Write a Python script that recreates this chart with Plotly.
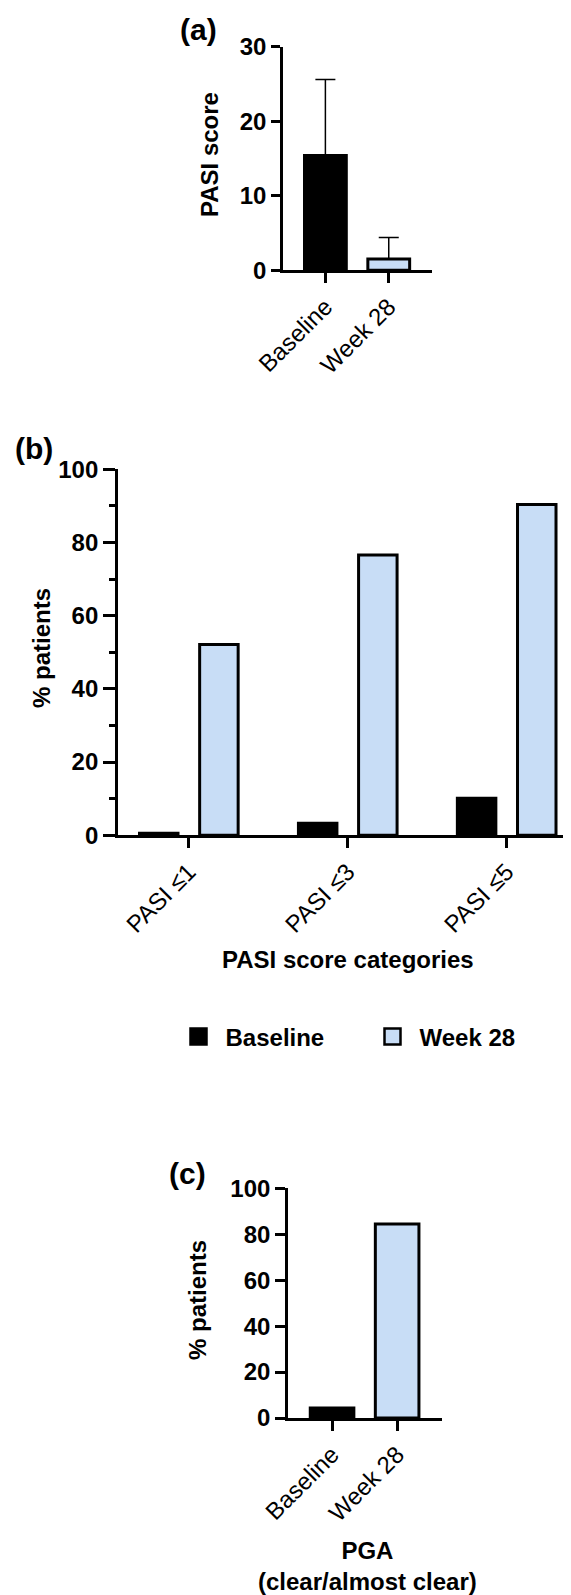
import plotly.graph_objects as go

# ---------------- data ----------------
a_categories = ["Baseline", "Week 28"]
a_values = [15.4, 1.5]
a_err = [10.2, 2.9]

b_categories = ["PASI ≤1", "PASI ≤3", "PASI ≤5"]
b_baseline = [0.5, 3.3, 10.1]
b_week28 = [52.1, 76.6, 90.4]

c_categories = ["Baseline", "Week 28"]
c_values = [4.3, 84.5]

series_names = ["Baseline", "Week 28"]
a_ticks = [0, 10, 20, 30]
pct_ticks = [0, 20, 40, 60, 80, 100]

# ---------------- style ----------------
W, H = 571, 1595
OFF = 8  # page body margin
BLACK = "#000000"
BLUE = "#C8DDF6"
FONT = "Liberation Sans, Arial, sans-serif"
FS = 24


def fx(px):
    return (px - OFF) / W


def fy(py):
    return 1 - (py - OFF) / H


fig = go.Figure()

fig.add_trace(go.Bar(
    x=a_categories, y=a_values, width=0.66,
    marker=dict(color=[BLACK, BLUE], line=dict(color=BLACK, width=3)),
    error_y=dict(type="data", array=a_err, arrayminus=[0, 0], symmetric=False,
                 color=BLACK, thickness=1.5, width=10),
    xaxis="x", yaxis="y", showlegend=False,
))

fig.add_trace(go.Bar(
    x=b_categories, y=b_baseline, name=series_names[0],
    marker=dict(color=BLACK, line=dict(color=BLACK, width=3)),
    xaxis="x2", yaxis="y2", showlegend=False,
))
fig.add_trace(go.Bar(
    x=b_categories, y=b_week28, name=series_names[1],
    marker=dict(color=BLUE, line=dict(color=BLACK, width=3)),
    xaxis="x2", yaxis="y2", showlegend=False,
))
# legend entries (larger square swatches)
for nm, col in zip(series_names, [BLACK, BLUE]):
    fig.add_trace(go.Scatter(
        x=[None], y=[None], mode="markers", name=nm,
        marker=dict(symbol="square", size=16, color=col,
                    line=dict(color=BLACK, width=2.5)),
        xaxis="x2", yaxis="y2", showlegend=True,
    ))

fig.add_trace(go.Bar(
    x=c_categories, y=c_values, width=0.67,
    marker=dict(color=[BLACK, BLUE], line=dict(color=BLACK, width=3)),
    xaxis="x3", yaxis="y3", showlegend=False,
))

common = dict(showline=True, linecolor=BLACK, linewidth=3, ticks="outside",
              tickcolor=BLACK, tickwidth=3, showgrid=False, zeroline=False,
              fixedrange=True, automargin=False)
xtf = dict(family=FONT, size=FS, color=BLACK)
ytf = dict(family=FONT, size=FS, color=BLACK, weight="bold")

fig.update_layout(
    width=W, height=H,
    margin=dict(l=0, r=0, t=0, b=0, pad=0, autoexpand=False),
    paper_bgcolor="white", plot_bgcolor="white",
    barmode="group", bargap=0.243, bargroupgap=0.36,
    font=dict(family=FONT, size=FS, color=BLACK),
    xaxis=dict(common, domain=[fx(283.2), fx(431.7)], range=[-0.666, 1.678],
               anchor="y", tickangle=-45, ticklen=10, tickfont=xtf),
    yaxis=dict(common, domain=[fy(270.2), fy(46.7)], range=[0, 30],
               tickvals=a_ticks, anchor="x", ticklen=9, tickfont=ytf),
    xaxis2=dict(common, domain=[fx(118.1), 1.0], range=[-0.445, 2.455],
                anchor="y2", tickangle=-45, ticklen=10, tickfont=xtf),
    yaxis2=dict(common, domain=[fy(835.2), fy(469.3)], range=[0, 100],
                tickvals=pct_ticks, anchor="x2", ticklen=12, tickfont=ytf,
                minor=dict(dtick=10, ticks="outside", ticklen=6, tickwidth=3,
                           tickcolor=BLACK, showgrid=False)),
    xaxis3=dict(common, domain=[fx(288.2), fx(442.3)], range=[-0.674, 1.694],
                anchor="y3", tickangle=-45, ticklen=10, tickfont=xtf),
    yaxis3=dict(common, domain=[fy(1418.0), fy(1188.3)], range=[0, 100],
                tickvals=pct_ticks, anchor="x3", ticklen=10, tickfont=ytf),
    legend=dict(orientation="h", x=fx(171.5), xanchor="left", y=fy(1037),
                yanchor="middle", font=dict(family=FONT, size=FS, color=BLACK,
                                            weight="bold"),
                itemwidth=44, entrywidth=135, entrywidthmode="pixels",
                bgcolor="rgba(0,0,0,0)", traceorder="normal"),
)

ann = []


def add_text(text, x, y, size=FS, angle=0, bold=True):
    ann.append(dict(text=text, x=fx(x), y=fy(y), xref="paper", yref="paper",
                    showarrow=False, textangle=angle, xanchor="center",
                    yanchor="middle",
                    font=dict(family=FONT, size=size, color=BLACK,
                              weight="bold" if bold else "normal")))


add_text("(a)", 198, 29, size=30)
add_text("(b)", 34, 449, size=30)
add_text("(c)", 187, 1173, size=30)
add_text("PASI score", 209, 155, angle=-90)
add_text("% patients", 41, 648, angle=-90)
add_text("% patients", 197, 1300, angle=-90)
add_text("PASI score categories", 348, 960)
add_text("PGA<br>(clear/almost clear)", 367, 1566)

fig.update_layout(annotations=ann)

fig.write_html("out.html")
